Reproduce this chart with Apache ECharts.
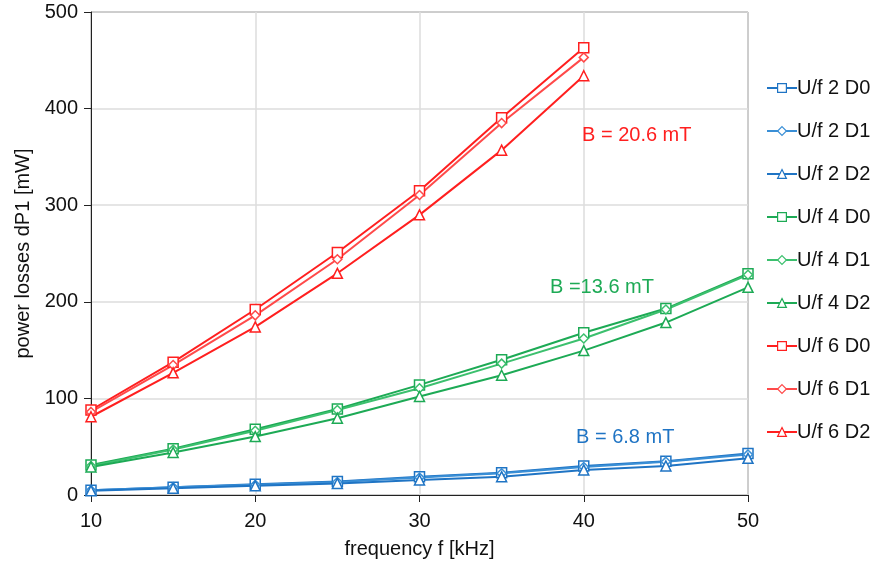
<!DOCTYPE html>
<html>
<head>
<meta charset="utf-8">
<script src="https://cdn.jsdelivr.net/npm/echarts@6/dist/echarts.min.js"></script>
<style>html,body{margin:0;padding:0;background:#fff;}#chart{width:877px;height:567px;}</style>
</head>
<body>
<div id="chart"></div>
<script>
const freq = [10, 15, 20, 25, 30, 35, 40, 45, 50];
const seriesNames = ['U/f 2 D0','U/f 2 D1','U/f 2 D2','U/f 4 D0','U/f 4 D1','U/f 4 D2','U/f 6 D0','U/f 6 D1','U/f 6 D2'];
const uf2D0 = [5, 8, 11, 14, 19, 23, 30, 35, 43];
const uf2D1 = [5, 8, 10.5, 13.5, 18, 22.5, 29, 34.5, 42];
const uf2D2 = [4.5, 7, 9.5, 12, 15.5, 19, 26, 30, 38];
const uf4D0 = [31, 48, 68, 89, 114, 140, 168, 193, 229];
const uf4D1 = [30, 47, 66.5, 88, 110.5, 136, 162, 192, 228];
const uf4D2 = [29, 44, 60.5, 79.5, 102, 124, 149.5, 178.5, 215];
const uf6D0 = [88, 137.5, 192, 251, 315, 390.5, 463];
const uf6D1 = [86, 134.5, 186, 244, 310.5, 385, 453];
const uf6D2 = [81, 126.5, 174, 229.5, 290, 357, 434];
const annotations = ['B = 20.6 mT', 'B =13.6 mT', 'B = 6.8 mT'];

const allData = [uf2D0, uf2D1, uf2D2, uf4D0, uf4D1, uf4D2, uf6D0, uf6D1, uf6D2];
const colors = ['#1f74c4','#3a8fd6','#1f74c4','#1daa55','#3cc06e','#1daa55','#ff1f1f','#ff4a4a','#ff1f1f'];
const symbols = ['rect','diamond','triangle'];
const symSizes = [10, 9, 10];
const FONT = 'Liberation Sans, Arial, sans-serif';
const FS = 20;

const series = allData.map((vals, i) => ({
  name: seriesNames[i],
  type: 'line',
  data: vals.map((v, j) => [freq[j], v]),
  symbol: symbols[i % 3],
  symbolSize: symSizes[i % 3],
  showAllSymbol: true,
  lineStyle: { color: colors[i], width: 2 },
  itemStyle: { color: '#fff', borderColor: colors[i], borderWidth: 1.5 },
  emphasis: { disabled: true },
  animation: false,
  z: 3
}));

const chart = echarts.init(document.getElementById('chart'));
chart.setOption({
  backgroundColor: '#fff',
  animation: false,
  color: colors,
  grid: { left: 91, right: 129, top: 12, bottom: 72, show: true, borderColor: '#444', borderWidth: 1, backgroundColor: 'transparent' },
  legend: {
    orient: 'vertical',
    left: 761,
    top: 73,
    itemGap: 23,
    itemWidth: 30,
    itemHeight: 11,
    textStyle: { fontFamily: FONT, fontSize: FS, color: '#111', padding: [0,0,0,-5] },
    data: seriesNames.map((n, i) => ({ name: n, itemStyle: { color: '#fff', borderColor: colors[i], borderWidth: 1.2 } }))
  },
  xAxis: {
    type: 'value', min: 10, max: 50, interval: 10,
    name: 'frequency f [kHz]', nameLocation: 'middle', nameGap: 44,
    nameTextStyle: { fontFamily: FONT, fontSize: FS, color: '#111' },
    axisLine: { show: true, lineStyle: { color: '#222', width: 1 } },
    axisTick: { show: true, length: 7, inside: false, lineStyle: { color: '#222' } },
    axisLabel: { fontFamily: FONT, fontSize: FS, color: '#111', margin: 16 },
    splitLine: { show: true, lineStyle: { color: '#dcdcdc', width: 1.5 } }
  },
  yAxis: {
    type: 'value', min: 0, max: 500, interval: 100,
    name: 'power losses dP1 [mW]', nameLocation: 'middle', nameGap: 58, nameRotate: 90,
    nameTextStyle: { fontFamily: FONT, fontSize: FS, color: '#111' },
    axisLine: { show: true, lineStyle: { color: '#222', width: 1 } },
    axisTick: { show: true, length: 7, inside: false, lineStyle: { color: '#222' } },
    axisLabel: { fontFamily: FONT, fontSize: FS, color: '#111', margin: 13 },
    splitLine: { show: true, lineStyle: { color: '#dcdcdc', width: 1.5 } }
  },
  graphic: [
    { type: 'text', left: 582, top: 125, z: 10, style: { text: annotations[0], fontFamily: FONT, fontSize: FS, fill: '#ff1f1f' } },
    { type: 'text', left: 550, top: 277, z: 10, style: { text: annotations[1], fontFamily: FONT, fontSize: FS, fill: '#1daa55' } },
    { type: 'text', left: 576, top: 427, z: 10, style: { text: annotations[2], fontFamily: FONT, fontSize: FS, fill: '#1f74c4' } }
  ],
  series: series
});
</script>
</body>
</html>
